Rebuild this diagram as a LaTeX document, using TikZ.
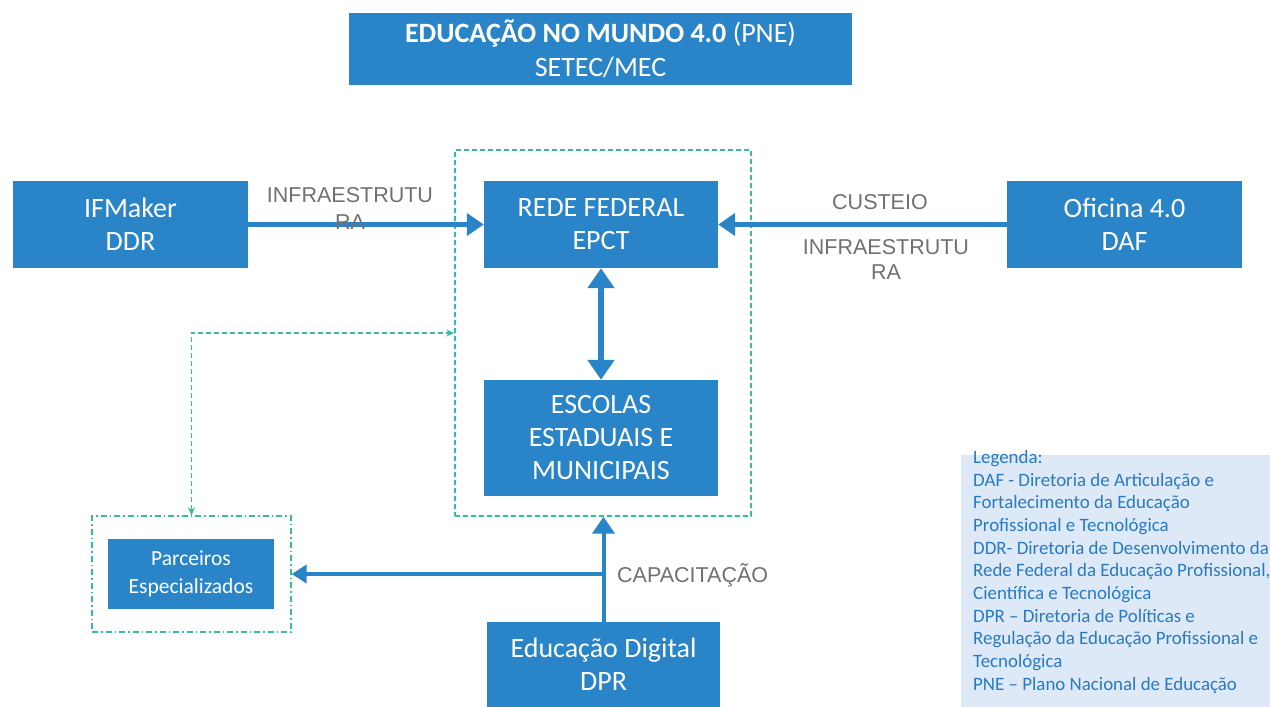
\documentclass[tikz,border=0pt]{standalone}
\usepackage{fontspec}
\setmainfont{Carlito}
\newfontfamily\arialf{Liberation Sans}
\usetikzlibrary{arrows.meta,positioning,calc}
\definecolor{boxblue}{RGB}{41,132,200}
\definecolor{lblgray}{RGB}{112,112,112}
\definecolor{teal}{RGB}{52,190,160}
\definecolor{legbg}{RGB}{221,233,246}
\definecolor{legtxt}{RGB}{40,122,196}
\tikzset{
  bluebox/.style={fill=boxblue, draw=none, text=white, align=center, inner sep=0pt,
    font=\fontsize{28}{33}\selectfont},
  lbl/.style={text=lblgray, align=center, inner sep=0pt, font=\arialf\fontsize{21.5}{26}\selectfont},
  thickarrow/.style={draw=boxblue, line width=5pt, -{Triangle[length=17pt,width=22pt]}},
  dblarrow/.style={draw=boxblue, line width=6pt, {Triangle[length=20pt,width=26pt]}-{Triangle[length=20pt,width=26pt]}},
  greendash/.style={draw=teal, line width=1.4pt, dash pattern=on 5pt off 3pt},
  greendashdot/.style={draw=teal, line width=1.3pt, dash pattern=on 6pt off 3pt on 1.5pt off 3pt},
}
\begin{document}
\begin{tikzpicture}[x=1pt,y=-1pt]
\useasboundingbox (0,0) rectangle (1270,707);
% title
\node[bluebox, minimum width=503pt, minimum height=72pt, font=\fontsize{28}{34}\selectfont] (title) at (600.5,49)
  {\textbf{EDUCAÇÃO NO MUNDO 4.0} (PNE)\\SETEC/MEC};
% containers
\node[greendash, minimum width=296pt, minimum height=366pt, inner sep=0pt] (big) at (603,333) {};
\node[greendashdot, minimum width=199pt, minimum height=116pt, inner sep=0pt] (dd) at (191.5,574) {};
% boxes
\node[bluebox, minimum width=235pt, minimum height=87pt] (ifm) at (130.5,224.5) {IFMaker\\DDR};
\node[bluebox, minimum width=234pt, minimum height=87pt] (rede) at (601,224.5) {REDE FEDERAL\\EPCT};
\node[bluebox, minimum width=235pt, minimum height=87pt] (ofi) at (1124.5,224.5) {Oficina 4.0\\DAF};
\node[bluebox, minimum width=234pt, minimum height=116pt] (esc) at (601,438) {ESCOLAS\\ESTADUAIS E\\MUNICIPAIS};
\node[bluebox, minimum width=166pt, minimum height=70pt, font=\fontsize{21.5}{28}\selectfont] (par) at (191,574) {Parceiros\\Especializados};
\node[bluebox, minimum width=233pt, minimum height=85pt] (edu) at (603.5,664.5) {Educação Digital\\DPR};
% arrows
\draw[thickarrow] (ifm.east) -- (rede.west);
\draw[thickarrow] (ofi.west) -- (rede.east);
\draw[dblarrow] (rede.south) -- (esc.north);
\coordinate (br) at (edu.north |- dd.east);
\draw[thickarrow, line width=4pt] (edu.north) -- (edu.north |- big.south);
\draw[thickarrow, line width=4pt, -{Triangle[length=15pt,width=18pt]}] (br) -- (dd.east);
\draw[greendash, {Stealth[length=8pt,width=7pt]}-{Stealth[length=8pt,width=7pt]}] (dd.north) |- (big.west);
% labels
\node[lbl, font=\arialf\fontsize{21.5}{27}\selectfont] (l1) at (350,208.5) {INFRAESTRUTU\\RA};
\node[lbl] (l2) at (880,202) {CUSTEIO};
\node[lbl, font=\arialf\fontsize{21.5}{25}\selectfont] (l3) at (886,259.5) {INFRAESTRUTU\\RA};
\node[lbl, anchor=west] (l4) at (617,575) {CAPACITAÇÃO};
% legend
\fill[legbg] (961,455) rectangle (1270,707);
\node[anchor=north west, inner sep=0pt, align=left, text=legtxt, font=\fontsize{18.9}{22.7}\selectfont] (leg) at (973,450)
 {Legenda:\\
 DAF - Diretoria de Articulação e\\
 Fortalecimento da Educação\\
 Profissional e Tecnológica\\
 DDR- Diretoria de Desenvolvimento da\\
 Rede Federal da Educação Profissional,\\
 Científica e Tecnológica\\
 DPR – Diretoria de Políticas e\\
 Regulação da Educação Profissional e\\
 Tecnológica\\
 PNE – Plano Nacional de Educação};
\end{tikzpicture}
\end{document}
